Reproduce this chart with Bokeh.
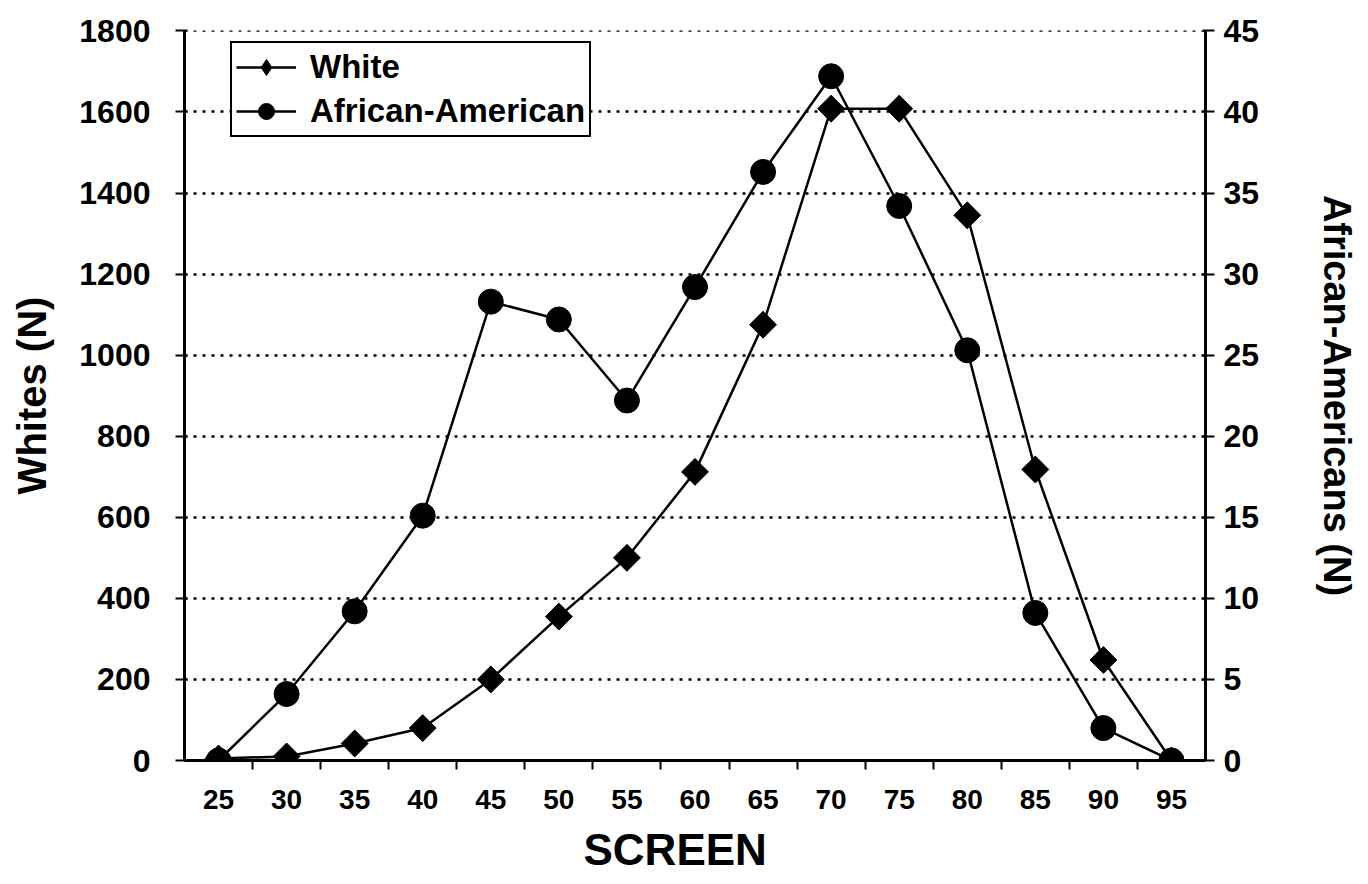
import numpy as np
from bokeh.plotting import figure
from bokeh.models import Range1d, LinearAxis, FixedTicker, Legend, LegendItem, Grid, Title
from bokeh.embed import file_html
from bokeh.resources import INLINE

# ---- data ----
screen = [25, 30, 35, 40, 45, 50, 55, 60, 65, 70, 75, 80, 85, 90, 95]
white = [5, 10, 42, 80, 200, 355, 500, 712, 1075, 1608, 1608, 1345, 718, 248, 0]
african_american = [0, 4.1, 9.2, 15.1, 28.3, 27.2, 22.2, 29.2, 36.3, 42.2, 34.2, 25.3, 9.1, 2.0, 0]
left_ticks = [0, 200, 400, 600, 800, 1000, 1200, 1400, 1600, 1800]
right_ticks = [0, 5, 10, 15, 20, 25, 30, 35, 40, 45]

FONT = "Liberation Sans"

step = screen[1] - screen[0]
x_start = screen[0] - step / 2
x_end = screen[-1] + step / 2
boundaries = [s + step / 2 for s in screen[:-1]]

W, H = 1368, 884
FL, FT, FR, FB = 184, 30, 1205, 760   # frame edges in page pixels

# a hair of headroom so the top dotted line at 1800 is drawn
pad = 1.0005
p = figure(width=W, height=H, output_backend="svg", toolbar_location=None,
           x_range=Range1d(x_start, x_end), y_range=Range1d(0, left_ticks[-1] * pad),
           min_border_left=FL, min_border_right=W - FR, min_border_top=FT,
           min_border_bottom=H - FB, x_axis_type=None, y_axis_type=None)
p.outline_line_color = None
p.background_fill_color = "white"
p.border_fill_color = "white"
p.extra_y_ranges = {"aa": Range1d(0, right_ticks[-1] * pad)}

# x axis: labels at category centres, small ticks at boundaries
xaxis = LinearAxis(ticker=FixedTicker(ticks=screen, minor_ticks=boundaries))
xaxis.axis_line_color = "black"
xaxis.axis_line_width = 3
xaxis.major_tick_out = 0
xaxis.major_tick_in = 0
xaxis.minor_tick_out = 9
xaxis.minor_tick_in = 0
xaxis.minor_tick_line_width = 2
xaxis.minor_tick_line_color = "black"
xaxis.major_label_standoff = 20
xaxis.major_label_text_font = FONT
xaxis.major_label_text_font_style = "bold"
xaxis.major_label_text_font_size = "28px"
xaxis.major_label_text_color = "black"
p.add_layout(xaxis, "below")

xtitle = Title(text="SCREEN", align="left", offset=583 - FL, standoff=22,
               text_font=FONT, text_font_style="bold", text_font_size="44px",
               text_color="black")
p.add_layout(xtitle, "below")

# left axis
yl = LinearAxis(ticker=FixedTicker(ticks=left_ticks, minor_ticks=[]))
yl.axis_label = "Whites (N)"
yl.axis_line_color = "black"
yl.axis_line_width = 3
yl.major_tick_out = 9
yl.major_tick_in = 3
yl.major_tick_line_width = 2
yl.major_label_standoff = 25
yl.major_label_text_font = FONT
yl.major_label_text_font_style = "bold"
yl.major_label_text_font_size = "32px"
yl.major_label_text_color = "black"
yl.axis_label_text_font = FONT
yl.axis_label_text_font_style = "bold"
yl.axis_label_text_font_size = "40px"
yl.axis_label_text_color = "black"
yl.axis_label_standoff = 22
p.add_layout(yl, "left")

# right axis
yr = LinearAxis(y_range_name="aa", ticker=FixedTicker(ticks=right_ticks, minor_ticks=[]))
yr.axis_label = "African-Americans (N)"
yr.axis_line_color = "black"
yr.axis_line_width = 3
yr.major_tick_out = 9
yr.major_tick_in = 3
yr.major_tick_line_width = 2
yr.major_label_standoff = 9
yr.major_label_text_font = FONT
yr.major_label_text_font_style = "bold"
yr.major_label_text_font_size = "32px"
yr.major_label_text_color = "black"
yr.axis_label_text_font = FONT
yr.axis_label_text_font_style = "bold"
yr.axis_label_text_font_size = "38px"
yr.axis_label_text_color = "black"
yr.axis_label_standoff = 54
p.add_layout(yr, "right")

# horizontal dotted grid
grid = Grid(dimension=1, ticker=FixedTicker(ticks=left_ticks),
            grid_line_color="black", grid_line_dash="3 6", grid_line_width=2.5)
p.add_layout(grid, "center")

# series
lw = p.line(screen, white, line_color="black", line_width=2.5)
dw = p.scatter(screen, white, marker="diamond", size=26,
               fill_color="black", line_color="black")
sw = p.scatter(screen, white, marker="square", angle=np.pi / 4, size=19,
               fill_color="black", line_color="black")
la = p.line(screen, african_american, line_color="black", line_width=2.5, y_range_name="aa")
sa = p.scatter(screen, african_american, marker="circle", size=25,
               fill_color="black", line_color="black", y_range_name="aa")

legend = Legend(items=[LegendItem(label="White", renderers=[lw, dw]),
                       LegendItem(label="African-American", renderers=[la, sa])])
legend.border_line_color = "black"
legend.border_line_alpha = 1
legend.border_line_width = 2
legend.background_fill_color = "white"
legend.background_fill_alpha = 1
legend.padding = 4
legend.spacing = 4
legend.margin = 0
legend.glyph_width = 60
legend.glyph_height = 40
legend.label_height = 40
legend.label_standoff = 14
legend.label_text_font = FONT
legend.label_text_font_style = "bold"
legend.label_text_font_size = "33px"
legend.label_text_color = "black"
legend_h = 94
legend.location = (230 - FL, (FB - FT) - (43 - FT) - legend_h)
p.add_layout(legend, "center")

open("out.html", "w").write(file_html(p, INLINE))
